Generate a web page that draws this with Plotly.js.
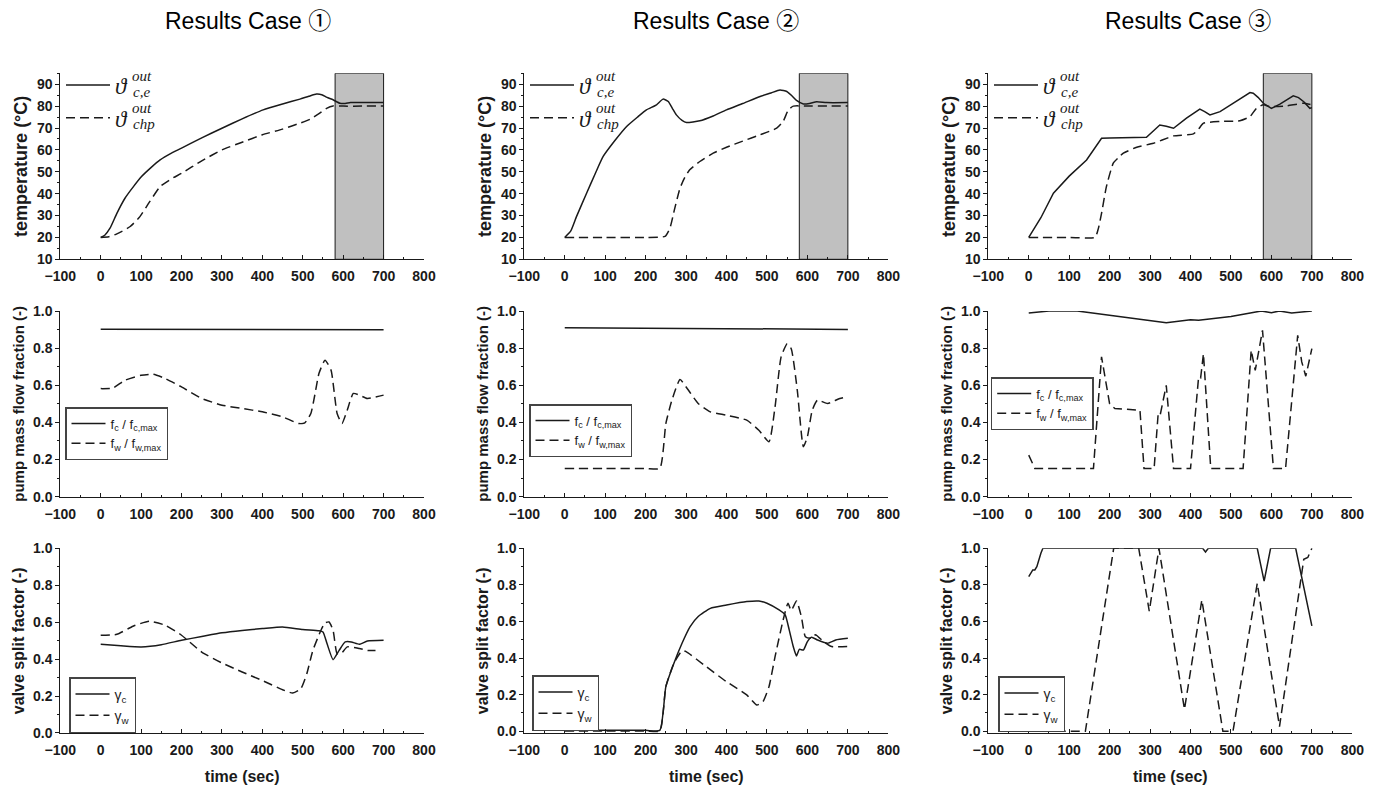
<!DOCTYPE html>
<html>
<head>
<meta charset="utf-8">
<script src="https://cdn.plot.ly/plotly-3.0.1.min.js"></script>
<style>
  html, body { margin: 0; padding: 0; background: #fff; }
  #chart { width: 1379px; height: 785px; }
</style>
</head>
<body>
<div id="chart"></div>
<script>
// ---------------- DATA ----------------
const caseTitles = ["Results Case \u2460", "Results Case \u2461", "Results Case \u2462"];
const shadeStart = 580, shadeEnd = 700;

// Case 1 - temperatures
const c1_t_Tce = [0, 10, 23, 40, 60, 81, 101, 125, 147, 175, 200, 250, 300, 350, 402, 450, 493, 515, 534, 547, 560, 575, 592, 605, 618, 650, 700];
const c1_Tce   = [20, 21, 24.2, 31, 37.9, 43.2, 47.8, 52, 55.4, 58.5, 60.8, 65.5, 69.9, 74.2, 78.3, 81, 83.2, 84.5, 85.5, 85.2, 84, 82.9, 81.3, 81.2, 81.6, 81.6, 81.6];
const c1_t_Tchp = [0, 20, 40, 73, 97, 120, 147, 175, 200, 250, 300, 350, 400, 450, 493, 518, 542, 559, 575, 600, 650, 700];
const c1_Tchp   = [20, 20.3, 21.6, 25, 29.5, 36, 43.2, 46.8, 49.3, 55, 60, 63.5, 66.9, 69.5, 72.2, 74, 76.8, 79, 80.1, 80, 80, 80];
// Case 1 - pump fractions
const c1_t_fc = [0, 350, 700];
const c1_fc   = [0.902, 0.901, 0.899];
const c1_t_fw = [0, 30, 60, 100, 130, 160, 200, 250, 300, 350, 400, 450, 490, 505, 520, 530, 540, 555, 570, 585, 597, 610, 625, 640, 660, 700];
const c1_fw   = [0.582, 0.585, 0.627, 0.654, 0.659, 0.636, 0.591, 0.529, 0.493, 0.475, 0.457, 0.43, 0.394, 0.398, 0.448, 0.55, 0.663, 0.735, 0.681, 0.448, 0.394, 0.466, 0.556, 0.547, 0.529, 0.547];
// Case 1 - valve split
const c1_t_gc = [0, 50, 100, 150, 200, 250, 300, 350, 400, 450, 500, 540, 550, 560, 575, 590, 605, 620, 640, 660, 700];
const c1_gc   = [0.48, 0.472, 0.466, 0.478, 0.502, 0.522, 0.542, 0.555, 0.565, 0.574, 0.56, 0.553, 0.547, 0.484, 0.397, 0.447, 0.493, 0.493, 0.48, 0.498, 0.502];
const c1_t_gw = [0, 40, 80, 120, 160, 200, 250, 300, 350, 400, 450, 475, 495, 510, 525, 545, 555, 565, 575, 585, 595, 610, 640, 660, 680];
const c1_gw   = [0.529, 0.534, 0.578, 0.605, 0.583, 0.529, 0.438, 0.379, 0.33, 0.284, 0.234, 0.216, 0.239, 0.321, 0.447, 0.556, 0.596, 0.601, 0.556, 0.429, 0.43, 0.466, 0.457, 0.447, 0.447];

// Case 2 - temperatures
const c2_t_Tce = [0, 15, 29, 54, 75, 95, 125, 153, 180, 202, 227, 243, 256, 266, 276, 290, 301, 334, 367, 400, 440, 483, 510, 532, 549, 560, 573, 590, 605, 623, 647, 700];
const c2_Tce   = [20, 23, 29.5, 40.2, 49, 57, 64.5, 70.7, 75, 78.3, 80.6, 83.2, 82.1, 79, 76, 73.5, 72.5, 73.3, 75.5, 78.3, 81.2, 84.4, 86, 87.4, 86.7, 85, 82.6, 81, 81.2, 82, 81.6, 81.6];
const c2_t_Tchp = [0, 100, 200, 248, 260, 272, 285, 297, 309, 334, 367, 400, 440, 483, 524, 540, 553, 565, 600, 650, 700];
const c2_Tchp   = [20, 20, 20, 20.5, 24.2, 33.3, 42.5, 47.5, 50.9, 54.7, 58.5, 61.2, 64, 66.9, 69.9, 73, 78.3, 80, 80, 80, 80];
// Case 2 - pump fractions
const c2_t_fc = [0, 350, 700];
const c2_fc   = [0.910, 0.906, 0.901];
const c2_t_fw = [0, 100, 200, 235, 250, 265, 285, 300, 330, 360, 400, 450, 480, 505, 520, 535, 550, 560, 575, 590, 600, 612, 625, 650, 680, 700];
const c2_fw   = [0.152, 0.152, 0.152, 0.152, 0.394, 0.52, 0.631, 0.591, 0.502, 0.457, 0.439, 0.412, 0.358, 0.296, 0.484, 0.753, 0.824, 0.797, 0.573, 0.269, 0.323, 0.466, 0.52, 0.502, 0.529, 0.538];
// Case 2 - valve split
const c2_t_gc = [0, 100, 200, 235, 250, 270, 290, 310, 330, 360, 400, 450, 480, 500, 530, 545, 555, 565, 573, 580, 590, 600, 610, 625, 650, 670, 700];
const c2_gc   = [0.005, 0.005, 0.005, 0.005, 0.244, 0.372, 0.481, 0.572, 0.627, 0.672, 0.69, 0.709, 0.712, 0.70, 0.663, 0.636, 0.554, 0.463, 0.412, 0.448, 0.444, 0.49, 0.514, 0.499, 0.481, 0.499, 0.508];
const c2_t_gw = [0, 100, 200, 235, 250, 270, 290, 300, 350, 400, 450, 475, 490, 505, 520, 540, 552, 560, 573, 585, 595, 610, 620, 640, 660, 700];
const c2_gw   = [0.002, 0.002, 0.002, 0.002, 0.244, 0.372, 0.44, 0.435, 0.353, 0.271, 0.199, 0.144, 0.162, 0.244, 0.408, 0.608, 0.70, 0.66, 0.712, 0.627, 0.517, 0.508, 0.528, 0.49, 0.463, 0.463];

// Case 3 - temperatures
const c3_t_Tce = [0, 30, 61, 100, 143, 165, 180, 200, 250, 291, 310, 324, 340, 358, 390, 423, 435, 448, 473, 510, 547, 555, 567, 580, 600, 621, 640, 654, 667, 680, 695, 700];
const c3_Tce   = [20, 29, 40.2, 48, 55.4, 61, 65.3, 65.4, 65.6, 65.8, 69, 71.4, 70.8, 69.9, 74.5, 78.6, 77.5, 76, 77.5, 82, 86.2, 85.9, 84, 81.3, 79, 80.9, 83, 84.7, 83.9, 82, 79, 79.3];
const c3_t_Tchp = [0, 100, 164, 172, 180, 192, 209, 222, 234, 267, 308, 330, 358, 407, 420, 432, 473, 522, 547, 563, 580, 596, 637, 679, 700];
const c3_Tchp   = [20, 20, 20, 24, 31, 43.2, 53.9, 56.5, 58.5, 61.2, 63, 64.5, 66.4, 67.3, 69.5, 72.2, 73, 73.3, 75.2, 79, 80.6, 79.8, 80.1, 81.3, 80.6];
// Case 3 - pump fractions
const c3_t_fc = [0, 50, 120, 200, 340, 400, 420, 500, 575, 600, 620, 650, 690, 700];
const c3_fc   = [0.989, 1.0, 1.0, 0.977, 0.937, 0.953, 0.95, 0.971, 1.0, 0.991, 1.0, 0.989, 1.0, 1.0];
const c3_t_fw = [0, 15, 100, 160, 180, 200, 213, 240, 275, 285, 310, 320, 325, 340, 358, 400, 420, 425, 432, 450, 530, 550, 560, 578, 605, 635, 665, 675, 685, 700];
const c3_fw   = [0.224, 0.152, 0.152, 0.152, 0.753, 0.50, 0.475, 0.47, 0.466, 0.152, 0.152, 0.448, 0.44, 0.60, 0.152, 0.152, 0.645, 0.64, 0.77, 0.152, 0.152, 0.789, 0.68, 0.896, 0.152, 0.152, 0.869, 0.726, 0.649, 0.797];
// Case 3 - valve split
const c3_t_gc = [0, 10, 15, 20, 30, 35, 100, 200, 300, 400, 430, 437, 444, 500, 565, 582, 598, 620, 660, 700];
const c3_gc   = [0.845, 0.882, 0.882, 0.9, 0.973, 1.0, 1.0, 1.0, 1.0, 1.0, 1.0, 0.98, 1.0, 1.0, 1.0, 0.821, 1.0, 1.0, 1.0, 0.576];
const c3_t_gw = [0, 70, 140, 210, 240, 272, 298, 322, 385, 428, 480, 505, 565, 620, 680, 690, 700];
const c3_gw   = [0, 0, 0, 1.0, 1.0, 1.0, 0.656, 1.0, 0.12, 0.718, 0.0, 0.0, 0.809, 0.026, 0.94, 0.95, 1.0];

const xTickVals = [-100, 0, 100, 200, 300, 400, 500, 600, 700, 800];
const yTitles = ["temperature (\u00B0C)", "pump mass flow fraction (-)", "valve split factor (-)"];
const xTitle = "time (sec)";
const legTop = ["\u03D1", "\u03D1"];
const legTopSup = ["out", "out"];
const legTopSub = ["c,e", "chp"];
const legMid = ["f<sub>c</sub> / f<sub>c,max</sub>", "f<sub>w</sub> / f<sub>w,max</sub>"];
const legBot = ["\u03B3<sub>c</sub>", "\u03B3<sub>w</sub>"];

// ---------------- LAYOUT HELPERS ----------------
const W = 1379, H = 785;
const colX = [[60.3, 424], [524.3, 888.3], [988.3, 1352.3]];
const rowY = [[73.3, 259.3], [311, 496.7], [548.3, 733.3]];
const SANS = "Liberation Sans, Arial, Helvetica, sans-serif";
const SERIF = "Liberation Serif, DejaVu Serif, Times New Roman, serif";
const INK = "#1a1a1a";
const DASH = "9px,5px";

const series = [
  [[c1_t_Tce, c1_Tce, c1_t_Tchp, c1_Tchp], [c1_t_fc, c1_fc, c1_t_fw, c1_fw], [c1_t_gc, c1_gc, c1_t_gw, c1_gw]],
  [[c2_t_Tce, c2_Tce, c2_t_Tchp, c2_Tchp], [c2_t_fc, c2_fc, c2_t_fw, c2_fw], [c2_t_gc, c2_gc, c2_t_gw, c2_gw]],
  [[c3_t_Tce, c3_Tce, c3_t_Tchp, c3_Tchp], [c3_t_fc, c3_fc, c3_t_fw, c3_fw], [c3_t_gc, c3_gc, c3_t_gw, c3_gw]]
];
// which curves are smooth (spline) per [col][row] -> [solid, dashed]
const smoothFlags = [
  [[true, true], [false, true], [true, true]],
  [[true, true], [false, true], [true, true]],
  [[false, true], [false, false], [false, false]]
];

const yRanges = [
  [[10, 95], [0, 1.0], [-0.002, 1.0]],
  [[10, 95], [0, 1.0], [-0.011, 1.0]],
  [[10, 95], [0, 1.0], [-0.011, 1.0]]
];

// legend boxes (px, left/top) per [col][row]
const legPos = [
  [[61, 63.5], [65, 407], [69, 677]],
  [[525, 63.5], [529, 404], [532, 675]],
  [[989, 63.5], [990.7, 377], [998, 676]]
];

const traces = [];
const layout = {
  width: W, height: H,
  margin: {l: 0, r: 0, t: 0, b: 0},
  paper_bgcolor: "#fff", plot_bgcolor: "rgba(0,0,0,0)",
  showlegend: true,
  font: {family: SANS, color: INK},
  shapes: [], annotations: []
};

let legendIdx = 0;
function legendName() { legendIdx++; return legendIdx === 1 ? "legend" : "legend" + legendIdx; }

for (let c = 0; c < 3; c++) {
  for (let r = 0; r < 3; r++) {
    const k = r * 3 + c + 1;
    const xa = k === 1 ? "xaxis" : "xaxis" + k;
    const ya = k === 1 ? "yaxis" : "yaxis" + k;
    const xr = k === 1 ? "x" : "x" + k;
    const yr = k === 1 ? "y" : "y" + k;
    const [x0, x1] = colX[c];
    const [y0, y1] = rowY[r];
    layout[xa] = {
      domain: [x0 / W, x1 / W], anchor: yr, range: [-100, 800],
      tickvals: xTickVals, ticks: "inside", ticklen: 4, tickwidth: 1, tickcolor: INK,
      minor: {dtick: 50, tick0: -100, ticks: "inside", ticklen: 2, tickwidth: 1, tickcolor: INK, showgrid: false},
      showline: true, linecolor: INK, linewidth: 1, showgrid: false, zeroline: false,
      ticklabelstandoff: 4,
      tickfont: {family: SANS, size: 14, weight: "bold", color: INK},
      fixedrange: true
    };
    if (r === 2) {
      layout[xa].title = {text: xTitle, font: {family: SANS, size: 16, weight: "bold", color: INK}, standoff: 13};
    }
    const yTitleSize = [18, 15, 16][r];
    layout[ya] = {
      domain: [1 - y1 / H, 1 - y0 / H], anchor: xr, range: yRanges[c][r],
      ticks: "outside", ticklen: 4, tickwidth: 1, tickcolor: INK,
      showline: true, linecolor: INK, linewidth: 1, showgrid: false, zeroline: false,
      tickfont: {family: SANS, size: 14, weight: "bold", color: INK},
      title: {text: yTitles[r], font: {family: SANS, size: yTitleSize, weight: "bold", color: INK}, standoff: 4},
      fixedrange: true
    };
    if (r === 0) {
      layout[ya].tickvals = [10, 20, 30, 40, 50, 60, 70, 80, 90];
      layout[ya].minor = {dtick: 5, tick0: 10, ticks: "outside", ticklen: 2, tickwidth: 1, tickcolor: INK, showgrid: false};
      layout.shapes.push({
        type: "rect", xref: xr, yref: yr, x0: shadeStart, x1: shadeEnd, y0: 10, y1: 95,
        fillcolor: "#c0c0c0", line: {color: INK, width: 1}, layer: "below"
      });
    } else {
      layout[ya].tickvals = [0, 0.2, 0.4, 0.6, 0.8, 1.0];
      layout[ya].tickformat = ".1f";
      layout[ya].minor = {dtick: 0.1, tick0: 0, ticks: "outside", ticklen: 2, tickwidth: 1, tickcolor: INK, showgrid: false};
    }

    const [ta, va, tb, vb] = series[c][r];
    const names = r === 0 ? legTop : (r === 1 ? legMid : legBot);
    const lp = legPos[c][r];
    const lg = legendName();
    if (r === 0) {
      layout[lg] = {
        x: lp[0] / W, y: 1 - lp[1] / H, xanchor: "left", yanchor: "top",
        bgcolor: "rgba(0,0,0,0)", borderwidth: 0, itemwidth: 44,
        font: {family: SERIF, size: 23, style: "italic", color: INK},
        tracegroupgap: 0, itemclick: false, itemdoubleclick: false
      };
    } else {
      layout[lg] = {
        x: lp[0] / W, y: 1 - lp[1] / H, xanchor: "left", yanchor: "top",
        bgcolor: "#fff", bordercolor: "#444", borderwidth: 1.5,
        itemwidth: 34,
        font: {family: SANS, size: r === 1 ? 13 : 14, color: INK},
        tracegroupgap: 0, itemclick: false, itemdoubleclick: false
      };
    }
    const sf = smoothFlags[c][r];
    traces.push({
      type: "scatter", mode: "lines", x: ta, y: va, xaxis: xr, yaxis: yr,
      name: names[0], legend: lg,
      line: {color: INK, width: 1.5, dash: "solid", shape: sf[0] ? "spline" : "linear", smoothing: 0.5},
      hoverinfo: "skip"
    });
    traces.push({
      type: "scatter", mode: "lines", x: tb, y: vb, xaxis: xr, yaxis: yr,
      name: names[1], legend: lg,
      line: {color: INK, width: 1.5, dash: DASH, shape: sf[1] ? "spline" : "linear", smoothing: 0.5},
      hoverinfo: "skip"
    });

    if (r === 0) {
      const dx = colX[c][0] - colX[0][0];
      const scripts = [
        [legTopSup[0], 130, 76], [legTopSub[0], 131, 92.5],
        [legTopSup[1], 130, 108.5], [legTopSub[1], 131, 124]
      ];
      scripts.forEach(([txt, px, py]) => {
        layout.annotations.push({
          xref: "paper", yref: "paper", x: (px + dx) / W, y: 1 - py / H,
          xanchor: "left", yanchor: "middle", showarrow: false,
          text: "<i>" + txt + "</i>",
          font: {family: SERIF, size: 15, color: INK}
        });
      });
    }
  }
}

const titleX = [248, 716, 1188];
caseTitles.forEach((t, i) => {
  layout.annotations.push({
    xref: "paper", yref: "paper", x: titleX[i] / W, y: 1 - 21 / H,
    xanchor: "center", yanchor: "middle", showarrow: false, text: t,
    font: {family: SANS + ", Noto Sans CJK SC", size: 23, color: "#000"}
  });
});

Plotly.newPlot("chart", traces, layout, {displayModeBar: false, staticPlot: true});
</script>
</body>
</html>
